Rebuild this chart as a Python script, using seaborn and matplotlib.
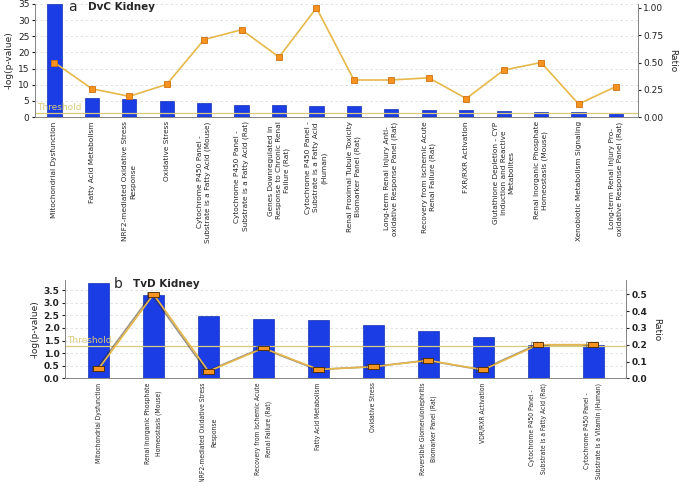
import numpy as np
import pandas as pd
import matplotlib
matplotlib.use("Agg")
import matplotlib.pyplot as plt
import matplotlib.transforms as mtransforms
import matplotlib.patheffects as pe
import seaborn as sns

# data - panel a (DvC Kidney)
cats_a = [
    "Mitochondrial Dysfunction",
    "Fatty Acid Metabolism",
    "NRF2-mediated Oxidative Stress\nResponse",
    "Oxidative Stress",
    "Cytochrome P450 Panel -\nSubstrate is a Fatty Acid (Mouse)",
    "Cytochrome P450 Panel -\nSubstrate is a Fatty Acid (Rat)",
    "Genes Downregulated in\nResponse to Chronic Renal\nFailure (Rat)",
    "Cytochrome P450 Panel -\nSubstrate is a Fatty Acid\n(Human)",
    "Renal Proximal Tubule Toxicity\nBiomarker Panel (Rat)",
    "Long-term Renal Injury Anti-\noxidative Response Panel (Rat)",
    "Recovery from Ischemic Acute\nRenal Failure (Rat)",
    "FXR/RXR Activation",
    "Glutathione Depletion - CYP\nInduction and Reactive\nMetabolites",
    "Renal Inorganic Phosphate\nHomeostasis (Mouse)",
    "Xenobiotic Metabolism Signaling",
    "Long-term Renal Injury Pro-\noxidative Response Panel (Rat)",
]
logp_a = [35.0, 5.9, 5.5, 5.1, 4.5, 3.9, 3.7, 3.5, 3.3, 2.4, 2.3, 2.1, 1.9, 1.5, 1.5, 1.2]
ratio_a = [0.50, 0.26, 0.19, 0.30, 0.71, 0.80, 0.55, 1.00, 0.34, 0.34, 0.36, 0.17, 0.43, 0.50, 0.12, 0.28]

# data - panel b (TvD Kidney)
cats_b = [
    "Mitochondrial Dysfunction",
    "Renal Inorganic Phosphate\nHomeostasis (Mouse)",
    "NRF2-mediated Oxidative Stress\nResponse",
    "Recovery from Ischemic Acute\nRenal Failure (Rat)",
    "Fatty Acid Metabolism",
    "Oxidative Stress",
    "Reversible Glomerulonephritis\nBiomarker Panel (Rat)",
    "VDR/RXR Activation",
    "Cytochrome P450 Panel -\nSubstrate is a Fatty Acid (Rat)",
    "Cytochrome P450 Panel -\nSubstrate is a Vitamin (Human)",
]
logp_b = [3.80, 3.29, 2.48, 2.34, 2.31, 2.12, 1.86, 1.64, 1.32, 1.32]
ratio_b = [0.057, 0.50, 0.042, 0.18, 0.053, 0.069, 0.107, 0.051, 0.20, 0.20]

threshold = 1.3

BAR = "#1b3de6"
LINE = "#e6b84a"
MARK = "#f7931e"
THR = "#d9cb78"

sns.set_style("white")
plt.rcParams["font.family"] = ["DejaVu Sans"]

fig = plt.figure(figsize=(6.85, 4.82), dpi=100)


def panel(rect, cats, logp, ratio, ylim, rlim, yticks, rticks, rfmt,
          xlim, width, label_size, linesp, stretch, mk, mk_shape, mk_edge,
          shadow, letter, name, title_xy):
    ax = fig.add_axes(rect)
    df = pd.DataFrame({"pathway": cats, "logp": logp, "ratio": ratio})
    sns.barplot(data=df, x="pathway", y="logp", order=cats, color=BAR,
                saturation=1, width=width, edgecolor="#1430b0", linewidth=0.5, ax=ax)
    ax.axhline(threshold, color=THR, lw=0.9, zorder=1)
    trans = mtransforms.blended_transform_factory(ax.transAxes, ax.transData)
    ax.text(0.003, threshold + (ylim[1] * 0.01), "Threshold", transform=trans,
            color=THR, fontsize=6.5, va="bottom", ha="left")
    ax.set_ylim(*ylim)
    ax.set_yticks(yticks)
    ax.yaxis.grid(True, ls=(0, (3, 3)), color="#dddddd", lw=0.6)
    ax.set_axisbelow(True)
    ax.set_ylabel("-log(p-value)", fontsize=6.5, labelpad=3)
    ax.set_xlabel("")

    ax2 = ax.twinx()
    sns.pointplot(data=df, x="pathway", y="ratio", order=cats, color=LINE,
                  markers="s", markersize=mk, linewidth=1.2, errorbar=None, ax=ax2)
    for ln in ax2.lines:
        ln.set_marker(mk_shape)
        ln.set_markersize(mk)
        ln.set_markerfacecolor(MARK)
        ln.set_markeredgecolor(mk_edge)
        ln.set_markeredgewidth(0.6)
        if shadow:
            ln.set_path_effects([pe.SimpleLineShadow(offset=(-1.3, 0), shadow_color="#3a2a10",
                                                     alpha=0.5, rho=1), pe.Normal()])
    ax2.set_ylim(*rlim)
    ax2.set_yticks(rticks)
    ax2.set_yticklabels([rfmt.format(v) for v in rticks])
    ax2.set_ylabel("Ratio", rotation=270, fontsize=6.5, labelpad=10)
    ax2.set_xlabel("")

    ax.set_xlim(*xlim)
    ax.set_xticks(range(len(cats)))
    ax.set_xticklabels(cats, rotation=90, fontsize=label_size, va="top", ha="center",
                       linespacing=linesp, multialignment="center", fontstretch=stretch)
    for a in (ax, ax2):
        a.tick_params(axis="y", labelsize=6.5, length=2, pad=2, colors="#222222")
        a.tick_params(axis="x", length=0, pad=3)
        for s in a.spines.values():
            s.set_color("#888888")
            s.set_linewidth(0.7)
        a.spines["top"].set_visible(False)
    fig.text(title_xy[0], title_xy[1], letter, fontsize=10, va="center", ha="left")
    fig.text(title_xy[0] + 0.028, title_xy[1], name, fontsize=7.5, fontweight="bold",
             va="center", ha="left")
    return ax, ax2


rect_marker = [(-1, -0.45), (1, -0.45), (1, 0.45), (-1, 0.45), (-1, -0.45)]

panel([0.051, 0.757, 0.880, 0.235], cats_a, logp_a, ratio_a,
      (0, 35), (0, 1.037), [0, 5, 10, 15, 20, 25, 30, 35],
      [0, 0.25, 0.5, 0.75, 1.0], "{:.2f}",
      (-0.52, 15.58), 0.38, 5.3, 1.35, "normal", 4.5, "s", "#d07010", False,
      "a", "DvC Kidney", (0.100, 0.985))

axb, axb2 = panel([0.095, 0.215, 0.819, 0.204], cats_b, logp_b, ratio_b,
                  (0, 3.9), (0, 0.585), [0, 0.5, 1.0, 1.5, 2.0, 2.5, 3.0, 3.5],
                  [0, 0.1, 0.2, 0.3, 0.4, 0.5], "{:.1f}",
                  (-0.61, 9.6), 0.38, 4.9, 2.0, "condensed", 7.5, rect_marker, "#4a2a00", True,
                  "b", "TvD Kidney", (0.166, 0.41))
axb.set_yticklabels([f"{v:.1f}" for v in [0, 0.5, 1.0, 1.5, 2.0, 2.5, 3.0, 3.5]],
                    fontweight="bold")
axb2.set_yticklabels([f"{v:.1f}" for v in [0, 0.1, 0.2, 0.3, 0.4, 0.5]], fontweight="bold")

fig.savefig("out.png", dpi=100)
